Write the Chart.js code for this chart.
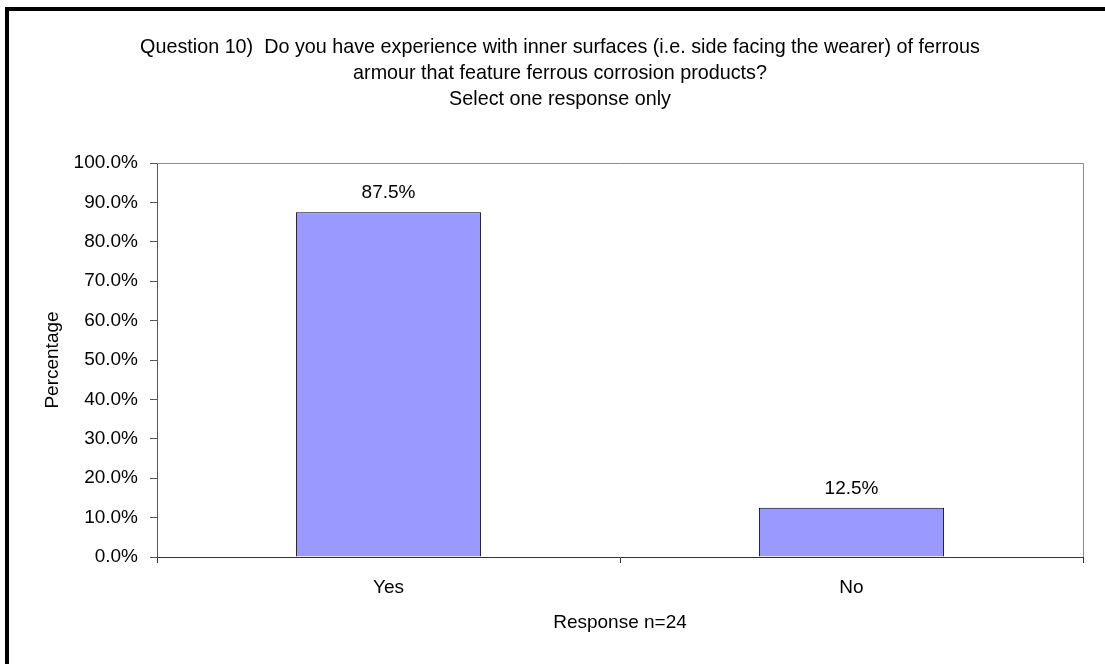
<!DOCTYPE html>
<html>
<head>
<meta charset="utf-8">
<script src="https://cdn.jsdelivr.net/npm/chart.js@4/dist/chart.umd.min.js"></script>
<style>
    html, body { margin: 0; padding: 0; background: #fff; }
    #wrap { position: relative; width: 1105px; height: 664px; overflow: hidden; }
    #frame {
        position: absolute; left: 5px; top: 7px; width: 1200px; height: 800px;
        border-left: 4px solid #000; border-top: 4px solid #000; pointer-events: none;
    }
    canvas { position: absolute; left: 0; top: 0; }
</style>
</head>
<body>
<div id="wrap">
    <canvas id="chart" width="1105" height="664"></canvas>
    <div id="frame"></div>
</div>
<script>
// 圖表數據
const categories = ['Yes', 'No'];
const percentValues = [87.5, 12.5];
const titleLines = [
    'Question 10)  Do you have experience with inner surfaces (i.e. side facing the wearer) of ferrous',
    'armour that feature ferrous corrosion products?',
    'Select one response only'
];
const yTickMax = 100;
const yTickStep = 10;

const FONT = '"Liberation Sans", Arial, sans-serif';

// 外框（繪圖區上方與右方的灰線）
const plotFrame = {
    id: 'plotFrame',
    afterDraw(chart) {
        const { ctx, chartArea: a } = chart;
        ctx.save();
        ctx.strokeStyle = '#8c8c8c';
        ctx.lineWidth = 1;
        ctx.beginPath();
        ctx.moveTo(a.left, a.top + 0.5);
        ctx.lineTo(a.right + 0.5, a.top + 0.5);
        ctx.lineTo(a.right + 0.5, a.bottom);
        ctx.stroke();
        ctx.restore();
    }
};

// 柱頂數值標籤
const valueLabels = {
    id: 'valueLabels',
    afterDatasetsDraw(chart) {
        const { ctx } = chart;
        const meta = chart.getDatasetMeta(0);
        ctx.save();
        ctx.fillStyle = '#000';
        ctx.font = '19px ' + FONT;
        ctx.textAlign = 'center';
        ctx.textBaseline = 'middle';
        meta.data.forEach((bar, i) => {
            ctx.fillText(percentValues[i].toFixed(1) + '%', bar.x, bar.y - 19);
        });
        ctx.restore();
    }
};

new Chart(document.getElementById('chart'), {
    type: 'bar',
    data: {
        labels: categories,
        datasets: [{
            data: percentValues,
            backgroundColor: '#9999ff',
            borderColor: '#000',
            borderWidth: 1,
            barPercentage: 0.4,
            categoryPercentage: 1
        }]
    },
    options: {
        responsive: false,
        animation: false,
        layout: { padding: { left: 37, right: 22, top: 0, bottom: 0 } },
        plugins: {
            legend: { display: false },
            tooltip: { enabled: false },
            title: {
                display: true,
                text: titleLines,
                color: '#000',
                font: { family: FONT, size: 19.75, weight: 'normal', lineHeight: 26 / 19.75 },
                padding: { top: 35, bottom: 50 }
            }
        },
        scales: {
            x: {
                border: { color: '#333', width: 1 },
                grid: { drawOnChartArea: false, drawTicks: true, tickLength: 6, color: '#333', offset: true },
                ticks: { color: '#000', font: { family: FONT, size: 19 }, padding: 13 },
                title: {
                    display: true, text: 'Response n=24', color: '#000',
                    font: { family: FONT, size: 19 }, padding: { top: 0, bottom: 30 }
                },
                afterFit(scale) { scale.height = 107; }
            },
            y: {
                min: 0, max: yTickMax,
                border: { color: '#555', width: 1 },
                grid: { drawOnChartArea: false, drawTicks: true, tickLength: 7, color: '#555' },
                ticks: {
                    stepSize: yTickStep, color: '#000', padding: 12,
                    font: { family: FONT, size: 19 },
                    callback: v => v.toFixed(1) + '%'
                },
                title: {
                    display: true, text: 'Percentage', color: '#000',
                    font: { family: FONT, size: 19 }, padding: { top: 4, bottom: 0 }
                },
                afterFit(scale) { scale.width = 120; }
            }
        }
    },
    plugins: [plotFrame, valueLabels]
});
</script>
</body>
</html>
